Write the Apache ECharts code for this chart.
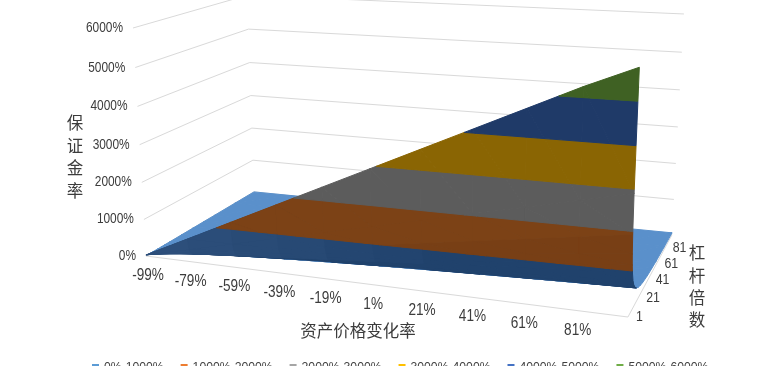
<!DOCTYPE html>
<html><head><meta charset="utf-8">
<style>html,body{margin:0;padding:0;background:#fff;overflow:hidden}#c{width:776px;height:366px}</style>
<script src="https://cdn.jsdelivr.net/npm/echarts@6/dist/echarts.min.js"></script>
</head><body><div id="c"></div>
<script>
// Asset price change (%) — columns of the table
const changes = [-99,-79,-59,-39,-19,1,21,41,61,81,100];
const changeTicks = ['-99%','-79%','-59%','-39%','-19%','1%','21%','41%','61%','81%'];
const changeTickValues = [-99,-79,-59,-39,-19,1,21,41,61,81];
// Leverage — rows of the table
const leverages = [1,2,3,4,5,6,8,10,13,16,20,25,30,40,50,60,80,100];
const leverageTicks = [1,21,41,61,81];
// Margin rate (%) per leverage row
const z1 = [29,609,1189,1769,2349,2929,3509,4089,4669,5249,5750];
const z2 = [15,305,595,885,1175,1465,1755,2045,2335,2625,2900];
const z3 = [10,203,396,590,783,976,1170,1363,1556,1750,1933];
const z4 = [7,152,297,442,587,732,877,1022,1167,1312,1450];
const z5 = [6,122,238,354,470,586,702,818,934,1050,1160];
const z6 = [5,102,198,295,392,488,585,682,778,875,967];
const z8 = [4,76,149,221,294,366,439,511,584,656,725];
const z10 = [3,61,119,177,235,293,351,409,467,525,580];
const z13 = [2,47,91,136,181,225,270,315,359,404,446];
const z16 = [2,38,74,111,147,183,219,256,292,328,363];
const z20 = [1,30,59,88,117,146,175,204,233,262,290];
const z25 = [1,24,48,71,94,117,140,164,187,210,232];
const z30 = [1,20,40,59,78,98,117,136,156,175,193];
const z40 = [1,15,30,44,59,73,88,102,117,131,145];
const z50 = [1,12,24,35,47,59,70,82,93,105,116];
const z60 = [0,10,20,29,39,49,58,68,78,87,97];
const z80 = [0,8,15,22,29,37,44,51,58,66,73];
const z100 = [0,6,12,18,23,29,35,41,47,52,58];
const zTable = [z1,z2,z3,z4,z5,z6,z8,z10,z13,z16,z20,z25,z30,z40,z50,z60,z80,z100];
// Margin rate axis and bands
const zTicks = [0,1000,2000,3000,4000,5000,6000];
const bandNames = ['0%-1000%','1000%-2000%','2000%-3000%','3000%-4000%','4000%-5000%','5000%-6000%'];
const legendColors = ['#5b9bd5','#ed7d31','#a5a5a5','#ffc000','#4472c4','#70ad47'];
const underColors = ['#20426c','#783f15','#5c5c5c','#8a6503','#1f3a68','#3f6123'];
const steepColors = ['#2d4f7b','#7c4216','#5c5c5c','#8a6503','#1f3a68','#3f6123'];
const steepLimits = [6,3,100,100,100,100];
const floorColor = '#5a90cb';

// One perspective projection of the 3D plot box, fitted to the picture
const FONT = '"Liberation Sans",sans-serif';
const CJK = '"Noto Sans CJK SC",sans-serif';
const PX = {a:399.1,b:150.42,c:-19.1,d:146}, PY = {a:19.18,b:-32.06,c:-229.3,d:256}, PW = {a:-0.13194,b:0.167,c:-0.046};
function project(u,v,z){
  const w=z/6000, den=PW.a*u+PW.b*v+PW.c*w+1;
  return [(PX.a*u+PX.b*v+PX.c*w+PX.d)/den,(PY.a*u+PY.b*v+PY.c*w+PY.d)/den];
}
const uOf=r=>(r+99)/199, vOf=l=>(l-1)/99;
function clip(poly,limit,keepAbove){
  const out=[];
  for(let i=0;i<poly.length;i++){
    const a=poly[i],b=poly[(i+1)%poly.length];
    const ia=keepAbove?a[2]>=limit:a[2]<=limit, ib=keepAbove?b[2]>=limit:b[2]<=limit;
    if(ia)out.push(a);
    if(ia!==ib){const t=(limit-a[2])/(b[2]-a[2]);out.push([a[0]+(b[0]-a[0])*t,a[1]+(b[1]-a[1])*t,limit]);}
  }
  return out;
}
function area(pts){let s=0;pts.forEach((p,i)=>{const n=pts[(i+1)%pts.length];s+=p[0]*n[1]-n[0]*p[1];});return s/2;}
// The front rim of the sheet, as a line on the picture; what lies below it at the left is seen from beneath
const rimA=project(0,0,z1[0]), rimB=project(1,0,z1[z1.length-1]);
const rimOffset=p=>p[1]-(rimA[1]+(rimB[1]-rimA[1])*(p[0]-rimA[0])/(rimB[0]-rimA[0]));
function splitByRim(pts,below){
  const out=[];
  for(let i=0;i<pts.length;i++){
    const a=pts[i],b=pts[(i+1)%pts.length],da=rimOffset(a),db=rimOffset(b);
    const ia=below?da>=0:da<=0, ib=below?db>=0:db<=0;
    if(ia)out.push(a);
    if(ia!==ib){const t=da/(da-db);out.push([a[0]+(b[0]-a[0])*t,a[1]+(b[1]-a[1])*t]);}
  }
  return out;
}
function mix(c1,c2,t){
  const h=(c,k)=>parseInt(c.substr(1+k*2,2),16);
  return 'rgb('+[0,1,2].map(k=>Math.round(h(c1,k)+(h(c2,k)-h(c1,k))*t)).join(',')+')';
}
// Split the surface into one polygon list per margin band, drawn back to front
const bandPolys=bandNames.map(()=>[]);
for(let j=leverages.length-2;j>=0;j--){
  for(let i=0;i<changes.length-1;i++){
    const c=(ii,jj)=>[uOf(changes[ii]),vOf(leverages[jj]),zTable[jj][ii]];
    const tris=[[c(i,j),c(i+1,j),c(i+1,j+1)],[c(i,j),c(i+1,j+1),c(i,j+1)]];
    tris.forEach(tri=>{
      bandPolys.forEach((list,b)=>{
        let p=clip(tri,zTicks[b],true);
        if(p.length)p=clip(p,zTicks[b+1],false);
        if(p.length<3)return;
        const pts=p.map(q=>project(q[0],q[1],q[2]));
        let under=underColors[b];
        if(leverages[j]<steepLimits[b]) under=b===0?mix(steepColors[0],underColors[0],Math.min(1,i/6)):steepColors[b];
        if(b===0&&area(pts)<0){
          if(i<2){
            const above=splitByRim(pts,false), below=splitByRim(pts,true);
            if(above.length>=3)list.push({pts:above,fill:floorColor});
            if(below.length>=3)list.push({pts:below,fill:under});
          } else list.push({pts,fill:floorColor});
        } else list.push({pts,fill:under});
      });
    });
  }
}
const lineStyle={stroke:'#d9d9d9',lineWidth:1};
function lineEl(api,a,b){const p=api.coord(a),q=api.coord(b);return {type:'line',shape:{x1:p[0],y1:p[1],x2:q[0],y2:q[1]},style:lineStyle,silent:true};}
function txt(api,p,text,opt,sx){const c=api.coord(p);return {type:'text',x:c[0],y:c[1],scaleX:sx||1,style:Object.assign({text,fill:'#3c3c3c',font:'14.5px '+FONT,align:'center',verticalAlign:'middle'},opt),silent:true};}

const frame={type:'custom',name:'frame',coordinateSystem:'cartesian2d',silent:true,z:1,clip:false,data:[[0,0]],
  renderItem(params,api){
    const ch=[];
    zTicks.forEach(z=>{
      ch.push(lineEl(api,project(0,0,z),project(0,1,z)));
      ch.push(lineEl(api,project(0,1,z),project(1,1,z)));
    });
    ch.push(lineEl(api,project(0,0,0),project(1,0,0)));
    ch.push(lineEl(api,project(1,0,0),project(1,1,0)));
    return {type:'group',children:ch};
  }};
const labels={type:'custom',name:'labels',coordinateSystem:'cartesian2d',silent:true,z:5,clip:false,data:[[0,0]],
  renderItem(params,api){
    const ch=[];
    zTicks.forEach(z=>{const p=project(0,0,z);ch.push(txt(api,[p[0]-10,p[1]],z+'%',{align:'right'},0.82));});
    changeTickValues.forEach((r,i)=>{const p=project(uOf(r),0,0);ch.push(txt(api,[p[0]+2,p[1]+20],changeTicks[i],{font:'16px '+FONT},0.85));});
    leverageTicks.forEach(l=>{const p=project(1,vOf(l),0);ch.push(txt(api,[p[0]+8,p[1]],String(l),{align:'left',font:'14px '+FONT},0.88));});
    ch.push(txt(api,[358,331],'资产价格变化率',{font:'16.5px '+CJK}));
    ['保','证','金','率'].forEach((t,i)=>ch.push(txt(api,[75,123+i*22.5],t,{font:'16.5px '+CJK})));
    ['杠','杆','倍','数'].forEach((t,i)=>ch.push(txt(api,[697,253+i*22.3],t,{font:'16.5px '+CJK})));
    return {type:'group',children:ch};
  }};
const bandSeries=bandNames.map((name,b)=>({
  type:'custom',name,coordinateSystem:'cartesian2d',silent:true,z:2+b*0.01,clip:false,
  itemStyle:{color:legendColors[b]},
  data:bandPolys[b].map((_,i)=>[i,0]),
  renderItem(params,api){
    const poly=bandPolys[b][params.dataIndex];
    return {type:'polygon',shape:{points:poly.pts.map(p=>api.coord(p))},style:{fill:poly.fill,stroke:poly.fill,lineWidth:1}};
  }
}));
const chart=echarts.init(document.getElementById('c'),null,{renderer:'canvas'});
chart.setOption({
  animation:false,backgroundColor:'#fff',
  grid:{left:0,right:0,top:0,bottom:0},
  xAxis:{type:'value',min:0,max:776,show:false},
  yAxis:{type:'value',min:0,max:366,inverse:true,show:false},
  legend:{data:bandNames,left:92,top:361.5,icon:'rect',itemWidth:7,itemHeight:7,itemGap:17,padding:0,
    textStyle:{color:'#404040',fontFamily:FONT,fontSize:12.2}},
  series:[frame,...bandSeries,labels]
});
</script></body></html>
